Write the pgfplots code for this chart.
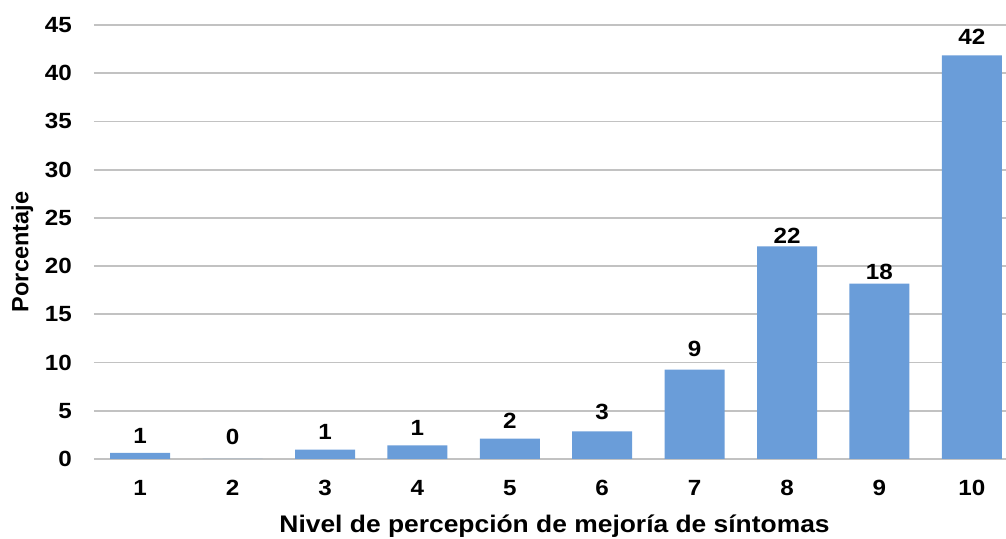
\documentclass[border=0pt]{standalone}
\usepackage{pgfplots}
\pgfplotsset{compat=1.18}
\usepackage{fontspec}
\setmainfont{Liberation Sans}[FakeStretch=1.1]
\newfontfamily\plainsans{Liberation Sans}
\definecolor{barblue}{RGB}{106,157,217}
\definecolor{gridgray}{RGB}{194,194,194}
\begin{document}
\begin{tikzpicture}
\begin{axis}[
  name=ax,
  scale only axis,
  width=912pt, height=434pt,
  xmin=0.5, xmax=10.37,
  ymin=0, ymax=45,
  ybar, bar width=60pt,
  axis line style={draw=none},
  ymajorgrids,
  grid style={gridgray, line width=1.7pt},
  major tick length=0pt,
  xtick={1,2,3,4,5,6,7,8,9,10},
  ytick={0,5,10,15,20,25,30,35,40,45},
  /pgf/number format/assume math mode=true,
  ticklabel style={font=\bfseries\fontsize{22}{26}\selectfont, inner sep=0pt},
  yticklabel style={xshift=-22pt},
  xticklabel style={yshift=-21pt},
  xlabel={Nivel de percepción de mejoría de síntomas},
  xlabel style={font=\bfseries\fontsize{24}{28}\selectfont, at={(axis description cs:0.505,-0.1705)}, anchor=base, inner sep=0pt},
  ylabel={Porcentaje},
  ylabel style={font=\plainsans\bfseries\fontsize{23.5}{28}\selectfont, at={(axis description cs:-0.0785,0.477)}, anchor=center, inner sep=0pt},
  nodes near coords,
  point meta=explicit symbolic,
  visualization depends on={\thisrow{gap} \as \labgap},
  nodes near coords style={font=\bfseries\fontsize{22}{26}\selectfont, inner sep=0pt, anchor=south, yshift=\labgap},
]
\addplot[fill=barblue, draw=none] table[x=x, y=y, meta=lab] {
x y lab gap
1 0.63 1 9
2 0 0 14
3 0.98 1 10
4 1.40 1 10
5 2.10 2 10
6 2.87 3 11
7 9.26 9 13
8 22.04 22 2.5
9 18.18 18 4
10 41.85 42 10.5
};
\end{axis}
\pgfresetboundingbox
\path[use as bounding box] ([xshift=-94pt,yshift=-80pt]ax.south west) rectangle ([yshift=25pt]ax.north east);
\end{tikzpicture}
\end{document}
